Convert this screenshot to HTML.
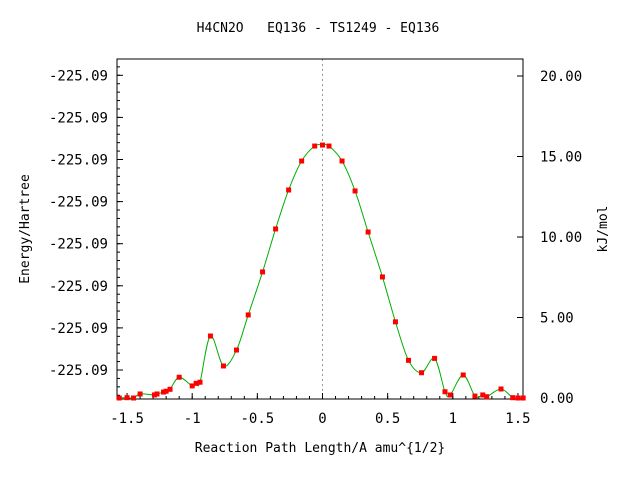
<!DOCTYPE html>
<html><head><meta charset="utf-8"><style>
body{margin:0;background:#fff;}
svg{display:block;font-family:"DejaVu Sans Mono","Liberation Mono",monospace;}
</style></head><body>
<svg id="chart" width="640" height="480" xmlns="http://www.w3.org/2000/svg">
<rect width="640" height="480" fill="#fff"/>
<text x="318" y="32" font-size="13" text-anchor="middle" xml:space="preserve">H4CN2O   EQ136 - TS1249 - EQ136</text>
<g id="grid"></g>
<rect x="117" y="59" width="406" height="340" fill="none" stroke="#000"/>
<g id="axes"></g>
<path id="curve" fill="none" stroke="#00b000" stroke-width="1"/>
<g id="points"></g>
<text x="320" y="452" font-size="13" text-anchor="middle">Reaction Path Length/A amu^{1/2}</text>
<text transform="translate(29,229) rotate(-90)" font-size="13" text-anchor="middle">Energy/Hartree</text>
<text transform="translate(607,229) rotate(-90)" font-size="13" text-anchor="middle">kJ/mol</text>
</svg>
<script>
const xs=[-1.56,-1.50,-1.45,-1.40,-1.29,-1.27,-1.22,-1.20,-1.17,-1.10,-1.00,-0.97,-0.94,-0.86,-0.76,-0.66,-0.57,-0.46,-0.36,-0.26,-0.16,-0.06,0.00,0.05,0.15,0.25,0.35,0.46,0.56,0.66,0.76,0.86,0.94,0.98,1.08,1.17,1.23,1.26,1.37,1.46,1.50,1.54];
const es=[0,0.02,0,0.25,0.19,0.25,0.37,0.42,0.54,1.29,0.75,0.91,0.98,3.85,1.99,2.98,5.16,7.83,10.50,12.92,14.72,15.65,15.71,15.65,14.72,12.86,10.31,7.52,4.73,2.34,1.57,2.46,0.39,0.19,1.43,0.12,0.19,0.08,0.56,0.02,0,0];
const xTicks=[-1.5,-1,-0.5,0,0.5,1,1.5];
const xTickLabels=["-1.5","-1","-0.5","0","0.5","1","1.5"];
const y2Ticks=[0,5,10,15,20];
const y2TickLabels=["0.00","5.00","10.00","15.00","20.00"];
const yLeftLabels=["-225.09","-225.09","-225.09","-225.09","-225.09","-225.09","-225.09","-225.09"];
const NS="http://www.w3.org/2000/svg";
const X=v=>322.5+v*130.3;
const Y=v=>398-v*16.1;
function mk(tag,attrs,parent){const e=document.createElementNS(NS,tag);for(const k in attrs)e.setAttribute(k,attrs[k]);parent.appendChild(e);return e;}
const axes=document.getElementById('axes');
const grid=document.getElementById('grid');
const zl=mk('line',{x1:X(0),x2:X(0),y1:59,y2:399,stroke:'#999','stroke-dasharray':'2,3'},grid);


xTicks.forEach((v,i)=>{
  mk('line',{x1:X(v),x2:X(v),y1:399,y2:393,stroke:'#000'},axes);
  const t=mk('text',{x:X(v),y:423,'font-size':14,'text-anchor':'middle'},axes);
  t.textContent=xTickLabels[i];
  
  
});
for(let v=-1.5;v<=1.51;v+=0.1){mk('line',{x1:X(v),x2:X(v),y1:399,y2:396,stroke:'#000'},axes);}
y2Ticks.forEach((v,i)=>{
  mk('line',{x1:517,x2:523,y1:Y(v),y2:Y(v),stroke:'#000'},axes);
  const t=mk('text',{x:540,y:Y(v)+5,'font-size':14},axes);
  t.textContent=y2TickLabels[i];
  
  
});
yLeftLabels.forEach((s,i)=>{
  const y=370-i*42.1;
  mk('line',{x1:117,x2:123,y1:y,y2:y,stroke:'#000'},axes);
  const t=mk('text',{x:108,y:y+5,'font-size':14,'text-anchor':'end'},axes);
  t.textContent=s;
  
  
});
for(let y=370+42.1;y>59;y-=8.42){if(y<399)mk('line',{x1:117,x2:120,y1:y,y2:y,stroke:'#000'},axes);}
const P=xs.map((x,i)=>[X(x),Y(es[i])]);
let d='M'+P[0][0]+','+P[0][1];
for(let i=0;i<P.length-1;i++){
  const p0=P[Math.max(i-1,0)],p1=P[i],p2=P[i+1],p3=P[Math.min(i+2,P.length-1)];
  const c1=[p1[0]+(p2[0]-p0[0])/6,p1[1]+(p2[1]-p0[1])/6];
  const c2=[p2[0]-(p3[0]-p1[0])/6,p2[1]-(p3[1]-p1[1])/6];
  d+=` C${c1[0]},${c1[1]} ${c2[0]},${c2[1]} ${p2[0]},${p2[1]}`;
}
document.getElementById('curve').setAttribute('d',d);
const pts=document.getElementById('points');
P.forEach(p=>{
  const r=mk('rect',{x:p[0]-2.5,y:p[1]-2.5,width:5,height:5,fill:'#f00'},pts);
  
  
});
</script>
</body></html>
